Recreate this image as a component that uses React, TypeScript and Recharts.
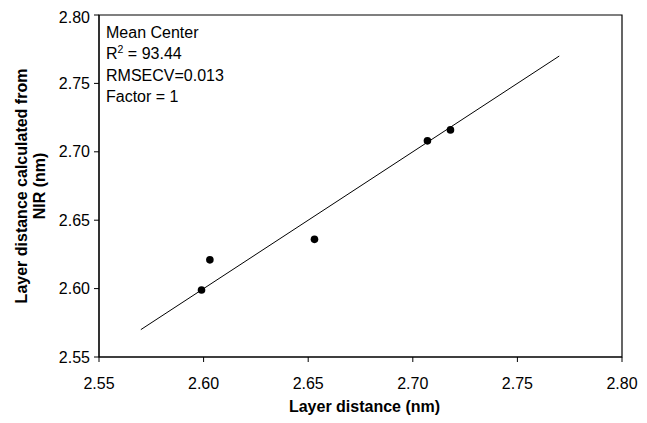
import React from 'react';
import { ScatterChart, Scatter, XAxis, YAxis, ReferenceLine, ReferenceArea } from 'recharts';

const measured = [2.599, 2.603, 2.653, 2.707, 2.718];
const predicted = [2.599, 2.621, 2.636, 2.708, 2.716];
const fitLineX = [2.57, 2.77];
const fitLineY = [2.57, 2.77];
const axisTicks = [2.55, 2.6, 2.65, 2.7, 2.75, 2.8];
const annotationLines = ['Mean Center', 'R2 = 93.44', 'RMSECV=0.013', 'Factor = 1'];
const xTitle = 'Layer distance (nm)';
const yTitleLines = ['Layer distance calculated from', 'NIR (nm)'];

const points = measured.map((x, i) => ({ x, y: predicted[i] }));
const FONT = '"Liberation Sans", Arial, sans-serif';

const Dot = (props: any) => <circle cx={props.cx} cy={props.cy} r={3.8} fill="#000" />;

const Overlay = (props: any) => {
  const vb = props.viewBox || {};
  const { x = 0, y = 0, width = 0, height = 0 } = vb;
  const lh = 21.3;
  return (
    <g fontFamily={FONT} fill="#000">
      <text x={x + 7} y={y + 23} fontSize={16}>{annotationLines[0]}</text>
      <text x={x + 7} y={y + 23 + lh} fontSize={16}>
        R<tspan dy={-6} fontSize={10.5}>2</tspan>
        <tspan dy={6}>{annotationLines[1].slice(2)}</tspan>
      </text>
      <text x={x + 7} y={y + 23 + lh * 2} fontSize={16}>{annotationLines[2]}</text>
      <text x={x + 7} y={y + 23 + lh * 3} fontSize={16}>{annotationLines[3]}</text>
      <text x={x + width / 2 + 4} y={y + height + 55} fontSize={16} fontWeight="bold" textAnchor="middle">{xTitle}</text>
      <text transform={`translate(${x - 72}, ${y + height / 2}) rotate(-90)`} fontSize={16} fontWeight="bold" textAnchor="middle">
        {yTitleLines[0]}
      </text>
      <text transform={`translate(${x - 54}, ${y + height / 2}) rotate(-90)`} fontSize={16} fontWeight="bold" textAnchor="middle">
        {yTitleLines[1]}
      </text>
    </g>
  );
};

export default function App() {
  const fmt = (v: number) => v.toFixed(2);
  return (
    <div style={{ marginBottom: -8, height: 415 }}>
      <ScatterChart width={630} height={415} margin={{ top: 7, right: 16, bottom: 0, left: 0 }}>
        <XAxis
          type="number"
          dataKey="x"
          domain={[2.55, 2.8]}
          ticks={axisTicks}
          tickFormatter={fmt}
          stroke="#000"
          tickSize={5}
          tickMargin={16}
          height={66}
          tick={{ fill: '#000', fontSize: 16, fontFamily: FONT }}
          allowDataOverflow
        />
        <YAxis
          type="number"
          dataKey="y"
          domain={[2.55, 2.8]}
          ticks={axisTicks}
          tickFormatter={fmt}
          stroke="#000"
          tickSize={5}
          tickMargin={4}
          width={91}
          tick={{ fill: '#000', fontSize: 16, fontFamily: FONT }}
          allowDataOverflow
        />
        <ReferenceArea
          x1={2.55}
          x2={2.8}
          y1={2.55}
          y2={2.8}
          fill="none"
          stroke="#000"
          strokeWidth={1.2}
          label={(p: any) => <Overlay {...p} />}
        />
        <ReferenceLine
          segment={[
            { x: fitLineX[0], y: fitLineY[0] },
            { x: fitLineX[1], y: fitLineY[1] },
          ]}
          stroke="#000"
          strokeWidth={1}
        />
        <Scatter data={points} fill="#000" shape={Dot} isAnimationActive={false} />
      </ScatterChart>
    </div>
  );
}
